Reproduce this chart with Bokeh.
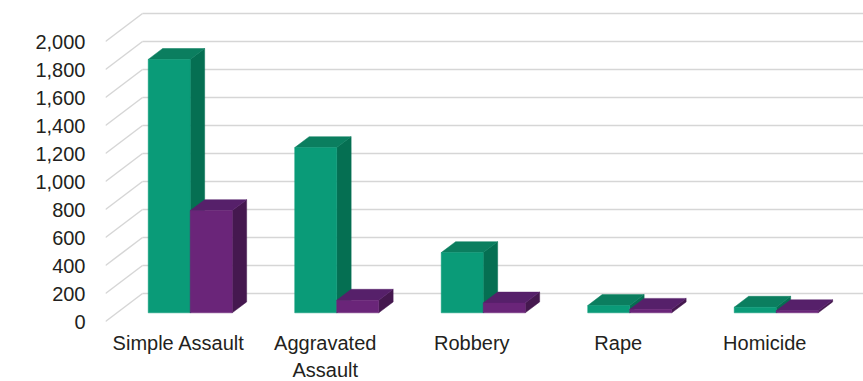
from bokeh.plotting import figure
from bokeh.models import Range1d, LinearAxis, FixedTicker, NumeralTickFormatter
from bokeh.core.properties import value
from bokeh.embed import file_html
from bokeh.resources import INLINE

# --- data -----------------------------------------------------------------
categories = ["Simple Assault", "Aggravated\nAssault", "Robbery", "Rape", "Homicide"]
series_green = [1810, 1180, 430, 52, 40]
series_purple = [730, 90, 70, 25, 15]
y_ticks = [0, 200, 400, 600, 800, 1000, 1200, 1400, 1600, 1800, 2000]

# --- geometry of the oblique 3-D view -------------------------------------
W, H = 863, 381
LEFT = 105                 # pixels reserved for the value axis
PX_PER_CAT = 146.5         # horizontal pixels per category slot
PX_PER_UNIT = 0.14         # vertical pixels per value unit
ZERO_PX = 321              # pixel row of value 0 on the front plane
LABEL_TOP_PX = 331         # pixel row where category labels start

DEPTH_DX = 37 / PX_PER_CAT     # full depth, in category units
DEPTH_DY = 28 / PX_PER_UNIT    # full depth, in value units
BAR_W = 42 / PX_PER_CAT
F0, F1 = 0.31, 0.70            # front / back depth of the bars

x0 = -0.5
x1 = x0 + (W - LEFT) / PX_PER_CAT
y_top = ZERO_PX / PX_PER_UNIT
y_bot = -(H - ZERO_PX) / PX_PER_UNIT

p = figure(width=W, height=H, output_backend="svg", toolbar_location=None,
           x_range=Range1d(x0, x1), y_range=Range1d(y_bot, y_top),
           x_axis_location=None, y_axis_location=None,
           min_border_left=LEFT, min_border_right=0,
           min_border_top=0, min_border_bottom=0)
p.outline_line_color = None
p.xgrid.visible = False
p.ygrid.visible = False
p.background_fill_color = "white"
p.border_fill_color = "white"

# value axis
yaxis = LinearAxis(ticker=FixedTicker(ticks=y_ticks),
                   formatter=NumeralTickFormatter(format="0,0"))
yaxis.axis_line_color = None
yaxis.major_tick_line_color = None
yaxis.minor_tick_line_color = None
yaxis.major_tick_in = 0
yaxis.major_tick_out = 0
yaxis.major_label_standoff = 20
yaxis.major_label_text_font = "Liberation Sans"
yaxis.major_label_text_font_size = "20px"
yaxis.major_label_text_color = "#231f20"
p.add_layout(yaxis, "left")

# gridlines: on the side wall (diagonals) and on the back wall
grid_col = "#d6d6d6"
for t in y_ticks:
    p.line([x0, x0 + DEPTH_DX], [t, t + DEPTH_DY], line_color=grid_col, line_width=1.5)
    p.line([x0 + DEPTH_DX, x1 + 1], [t + DEPTH_DY, t + DEPTH_DY],
           line_color=grid_col, line_width=1.5)


def bar(left, v, front, side, top):
    fx, fy = F0 * DEPTH_DX, F0 * DEPTH_DY
    bx, by = F1 * DEPTH_DX, F1 * DEPTH_DY
    r = left + BAR_W
    # right side face
    p.patch([r + fx, r + fx, r + bx, r + bx], [fy, v + fy, v + by, by],
            fill_color=side, line_color=side, line_width=0.5)
    # top face
    p.patch([left + fx, r + fx, r + bx, left + bx], [v + fy, v + fy, v + by, v + by],
            fill_color=top, line_color=top, line_width=0.5)
    # front face
    p.patch([left + fx, r + fx, r + fx, left + fx], [fy, fy, v + fy, v + fy],
            fill_color=front, line_color=front, line_width=0.5)


GREEN = ("#0a9b78", "#056f52", "#0b7e5f")
PURPLE = ("#6a2579", "#45184f", "#56206a")

for i, (g, pu) in enumerate(zip(series_green, series_purple)):
    bar(i - BAR_W, g, *GREEN)
    bar(i, pu, *PURPLE)

# category labels
p.text(x=list(range(len(categories))),
       y=[-(LABEL_TOP_PX - ZERO_PX) / PX_PER_UNIT] * len(categories),
       text=categories, text_align="center", text_baseline="top",
       text_font=value("Liberation Sans"), text_font_size="20px",
       text_color="#231f20", text_line_height=1.25)

open("out.html", "w").write(file_html(p, INLINE))
